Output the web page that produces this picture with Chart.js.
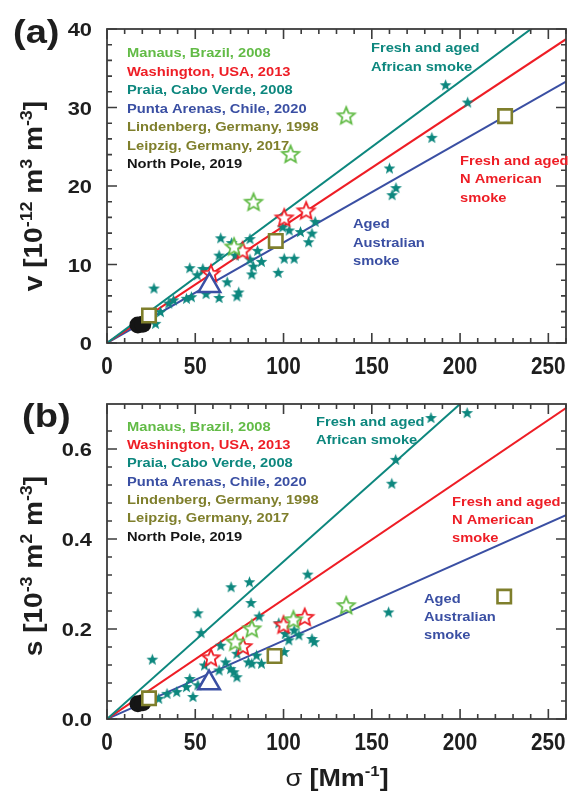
<!DOCTYPE html>
<html>
<head>
<meta charset="utf-8">
<script src="https://cdn.jsdelivr.net/npm/chart.js@4.4.1/dist/chart.umd.min.js"></script>
<style>
  html, body { margin: 0; padding: 0; background: #fff; }
  #wrap { position: relative; width: 581px; height: 791px; }
  canvas { position: absolute; left: 0; }
  #chart-a { top: 0; }
  #chart-b { top: 380px; }
</style>
</head>
<body>
<div id="wrap">
  <canvas id="chart-a" width="581" height="380"></canvas>
  <canvas id="chart-b" width="581" height="411"></canvas>
</div>
<script>
// ---- data: [sigma (Mm-1), value] ----

// panel (a): volume concentration v
const praiaA = [
  [26.6, 7.0], [27.5, 2.5], [30.3, 4.0], [35, 5.1], [37.7, 5.5], [45, 5.7], [47.8, 5.9],
  [46.9, 9.6], [51.1, 8.7], [54.3, 9.5], [56.1, 6.3], [63.5, 5.8], [68.1, 7.8], [73.6, 6.0],
  [74.6, 6.5], [64.4, 13.4], [70.6, 12.8], [81, 13.3], [63.5, 11.2], [72.7, 11.2], [85.3, 11.8],
  [81, 10.7], [87.5, 10.4], [82.9, 9.8], [82, 8.8], [97, 9.0], [100.4, 10.8], [106, 10.8],
  [99.5, 14.8], [103.2, 14.4], [109.6, 14.2], [116.1, 14.0], [114.2, 12.9], [117.9, 15.5],
  [160, 22.3], [163.7, 19.8], [161.5, 18.9], [184, 26.2], [191.8, 32.9], [204.3, 30.7]
];
const manausA = [[72, 12.3], [83, 18.0], [104, 24.1], [135.5, 29.0]];
const washingtonA = [[58.9, 8.9], [76.8, 11.8], [100.4, 16.0], [112.8, 16.9]];
const puntaArenasA = [[58, 7.3]];
const lindenbergA = [[225.5, 28.9]];
const leipzigA = [[23.8, 3.5], [95.6, 13.0]];
const northPoleA = [[17.5, 2.3], [20.3, 2.4]];
const africanLineA = [[0, 0], [260, 43.3]];
const americanLineA = [[0, 0], [260, 38.7]];
const australianLineA = [[0, 0], [260, 33.3]];

// panel (b): surface area concentration s
const praiaB = [
  [183.5, 0.670], [204, 0.681], [163.5, 0.577], [161.3, 0.524], [113.7, 0.322], [159.5, 0.238],
  [70.3, 0.294], [80.7, 0.305], [81.6, 0.259], [51.5, 0.236], [86.2, 0.229], [53.3, 0.192],
  [25.7, 0.133], [64.4, 0.164], [97.3, 0.214], [101, 0.19], [106, 0.198], [108.7, 0.187],
  [116.1, 0.179], [117.4, 0.172], [103, 0.176], [100.4, 0.15], [73.6, 0.146], [84.7, 0.142],
  [80.1, 0.127], [87.5, 0.124], [82, 0.124], [70, 0.112], [71.8, 0.105], [73.6, 0.094],
  [67.2, 0.127], [63.5, 0.109], [55.2, 0.12], [46.9, 0.09], [45, 0.072], [48.7, 0.05],
  [51.5, 0.076], [39.5, 0.061], [34, 0.057], [29.3, 0.046]
];
const manausB = [[72.7, 0.172], [82, 0.2015], [105.6, 0.2215], [135.5, 0.253]];
const washingtonB = [[58.9, 0.137], [77, 0.162], [100, 0.21], [112, 0.227]];
const puntaArenasB = [[57.8, 0.08]];
const lindenbergB = [[225, 0.272]];
const leipzigB = [[23.8, 0.046], [94.9, 0.14]];
const northPoleB = [[17.5, 0.034], [20.3, 0.036]];
const africanLineB = [[0, 0], [260, 0.91]];
const americanLineB = [[0, 0], [260, 0.691]];
const australianLineB = [[0, 0], [260, 0.453]];

// ticks
const xTicks = [0, 50, 100, 150, 200, 250];
const xTickLabels = ['0', '50', '100', '150', '200', '250'];
const yTicksA = [0, 10, 20, 30, 40];
const yTickLabelsA = ['0', '10', '20', '30', '40'];
const yTicksB = [0, 0.2, 0.4, 0.6];
const yTickLabelsB = ['0.0', '0.2', '0.4', '0.6'];

const siteLabels = [
  'Manaus, Brazil, 2008',
  'Washington, USA, 2013',
  'Praia, Cabo Verde, 2008',
  'Punta Arenas, Chile, 2020',
  'Lindenberg, Germany, 1998',
  'Leipzig, Germany, 2017',
  'North Pole, 2019'
];

// ---- styling ----
const FONT = "'Liberation Sans', Arial, Helvetica, sans-serif";
const TEAL = '#0d877e';
const RED = '#ee1d25';
const BLUE = '#3a4fa3';
const GREEN = '#62bb46';
const OLIVE = '#7f7f2c';
const BLACK = '#151515';
const FRAME = '#3c3c3c';
const siteColors = [GREEN, RED, TEAL, BLUE, OLIVE, OLIVE, BLACK];

function pts(arr) {
  return arr.map(([x, y]) => ({ x, y }));
}

// five-pointed star marker drawn into a small canvas
function starCanvas(R, inner, fill, stroke, lw) {
  const pad = Math.ceil(lw || 0) + 1;
  const size = Math.ceil(2 * R + 2 * pad);
  const c = document.createElement('canvas');
  c.width = c.height = size;
  const g = c.getContext('2d');
  const cx = size / 2, cy = size / 2 + R * 0.1;
  g.beginPath();
  for (let i = 0; i < 10; i++) {
    const r = i % 2 ? R * inner : R;
    const a = -Math.PI / 2 + i * Math.PI / 5;
    g.lineTo(cx + r * Math.cos(a), cy + r * Math.sin(a));
  }
  g.closePath();
  g.fillStyle = fill;
  g.fill();
  if (stroke) {
    g.lineWidth = lw;
    g.strokeStyle = stroke;
    g.lineJoin = 'miter';
    g.stroke();
  }
  return c;
}

const tealStar = starCanvas(6.2, 0.42, TEAL);
const greenStar = starCanvas(9, 0.45, '#fff', GREEN, 1.8);
const redStar = starCanvas(9, 0.45, '#fff', RED, 1.8);

// text with superscripts and a horizontal stretch
function textRun(ctx, parts, x, y, o) {
  const size = o.size, sx = o.sx || 1;
  ctx.save();
  ctx.translate(x, y);
  if (o.rot) ctx.rotate(o.rot);
  ctx.scale(sx, 1);
  ctx.fillStyle = o.color || BLACK;
  ctx.textBaseline = 'alphabetic';
  ctx.textAlign = 'left';
  const fontOf = p => `${p[2] || 'bold'} ${p[1] ? Math.round(size * 0.62) : size}px ${FONT}`;
  let total = 0;
  parts.forEach(p => { ctx.font = fontOf(p); total += ctx.measureText(p[0]).width; });
  let cx = o.align === 'center' ? -total / 2 : o.align === 'right' ? -total : 0;
  parts.forEach(p => {
    ctx.font = fontOf(p);
    ctx.fillText(p[0], cx, p[1] ? -size * 0.42 : 0);
    cx += ctx.measureText(p[0]).width;
  });
  ctx.restore();
}

function isMultiple(v, step) {
  const q = v / step;
  return Math.abs(q - Math.round(q)) < 1e-6;
}

const decorations = {
  id: 'decorations',
  afterDraw(chart, args, o) {
    const { ctx, chartArea: a, scales: { x, y } } = chart;
    ctx.save();
    ctx.strokeStyle = FRAME;
    ctx.lineWidth = 1.6;
    ctx.beginPath();
    x.ticks.forEach(t => {
      if (!isMultiple(t.value, o.xMinor)) return;
      const len = isMultiple(t.value, o.xMajor) ? 10 : 5;
      const px = x.getPixelForValue(t.value);
      ctx.moveTo(px, a.bottom); ctx.lineTo(px, a.bottom - len);
      ctx.moveTo(px, a.top); ctx.lineTo(px, a.top + len);
    });
    y.ticks.forEach(t => {
      if (!isMultiple(t.value, o.yMinor)) return;
      const len = isMultiple(t.value, o.yMajor) ? 10 : 5;
      const py = y.getPixelForValue(t.value);
      ctx.moveTo(a.left, py); ctx.lineTo(a.left + len, py);
      ctx.moveTo(a.right, py); ctx.lineTo(a.right - len, py);
    });
    ctx.stroke();
    ctx.lineWidth = 1.8;
    ctx.strokeRect(a.left, a.top, a.right - a.left, a.bottom - a.top);
    ctx.restore();

    // tick labels
    xTicks.forEach((v, i) => {
      textRun(ctx, [[xTickLabels[i]]], x.getPixelForValue(v), o.xLabelBase,
        { size: 23, sx: 0.9, align: 'center', color: '#1e1e1e' });
    });
    o.yTicks.forEach((v, i) => {
      textRun(ctx, [[o.yTickLabels[i]]], 92, y.getPixelForValue(v) + 7,
        { size: 19, sx: 1.15, align: 'right', color: '#1e1e1e' });
    });

    // panel letter
    textRun(ctx, [[o.panel]], o.panelPos[0], o.panelPos[1], { size: 34, sx: 1.12, color: '#1e1e1e' });

    // y axis title
    textRun(ctx, o.yTitle, 42, o.yTitleY, { size: 25, sx: 1.12, rot: -Math.PI / 2, align: 'center', color: '#1e1e1e' });

    // x axis title
    if (o.xTitle) {
      textRun(ctx, o.xTitle, 337, o.xTitleBase, { size: 24, sx: 1.12, align: 'center', color: '#1e1e1e' });
    }

    // site list
    siteLabels.forEach((s, i) => {
      textRun(ctx, [[s]], 127, o.legendTop + i * o.legendStep, { size: 13, sx: 1.13, color: siteColors[i] });
    });

    // smoke annotations
    o.notes.forEach(n => {
      n.lines.forEach((l, i) => {
        textRun(ctx, [[l]], n.x, n.y + i * 18.3, { size: 13, sx: 1.13, color: n.color });
      });
    });
  }
};

function buildDatasets(d) {
  const line = (data, color) => ({
    data: pts(data), showLine: true, borderColor: color, borderWidth: 2,
    pointRadius: 0, order: 10
  });
  return [
    line(d.african, TEAL),
    line(d.american, RED),
    line(d.australian, BLUE),
    { data: pts(d.praia), pointStyle: tealStar, order: 6 },
    { data: pts(d.manaus), pointStyle: greenStar, order: 4 },
    { data: pts(d.washington), pointStyle: redStar, order: 4 },
    { data: pts(d.northPole), pointStyle: 'circle', pointRadius: 8.5,
      backgroundColor: BLACK, borderColor: BLACK, borderWidth: 0, order: 3 },
    { data: pts(d.puntaArenas), pointStyle: 'triangle', pointRadius: 12.5,
      backgroundColor: '#fff', borderColor: BLUE, borderWidth: 2.5, order: 2 },
    { data: pts(d.lindenberg.concat(d.leipzig)), pointStyle: 'rect', pointRadius: 9.5,
      backgroundColor: '#fff', borderColor: OLIVE, borderWidth: 2.6, order: 1 }
  ];
}

function makeChart(id, d, height, top, bottom, yMax, yStep, deco) {
  const ctx = document.getElementById(id).getContext('2d');
  return new Chart(ctx, {
    type: 'scatter',
    data: { datasets: buildDatasets(d) },
    options: {
      responsive: false,
      devicePixelRatio: 1,
      animation: false,
      events: [],
      layout: { padding: { top: top, right: 4, left: 0, bottom: 0 } },
      plugins: {
        legend: { display: false },
        tooltip: { enabled: false },
        decorations: deco
      },
      scales: {
        x: {
          type: 'linear', min: 0, max: 260,
          ticks: { stepSize: 10, display: false },
          grid: { display: false },
          border: { display: false },
          afterFit: s => { s.height = height - bottom; }
        },
        y: {
          type: 'linear', min: 0, max: yMax,
          ticks: { stepSize: yStep, display: false },
          grid: { display: false },
          border: { display: false },
          afterFit: s => { s.width = 107; }
        }
      }
    },
    plugins: [decorations]
  });
}

makeChart('chart-a', {
  praia: praiaA, manaus: manausA, washington: washingtonA, puntaArenas: puntaArenasA,
  lindenberg: lindenbergA, leipzig: leipzigA, northPole: northPoleA,
  african: africanLineA, american: americanLineA, australian: australianLineA
}, 380, 29, 343, 40, 2, {
  xMinor: 10, xMajor: 50, yMinor: 2, yMajor: 10,
  xLabelBase: 373.5,
  yTicks: yTicksA, yTickLabels: yTickLabelsA,
  panel: '(a)', panelPos: [13, 43],
  yTitle: [['v [10'], ['-12', true], [' m'], ['3', true], [' m'], ['-3', true], [']']],
  yTitleY: 196,
  legendTop: 57, legendStep: 18.5,
  notes: [
    { x: 371, y: 52.3, color: TEAL, lines: ['Fresh and aged', 'African smoke'] },
    { x: 460, y: 165, color: RED, lines: ['Fresh and aged', 'N American', 'smoke'] },
    { x: 353, y: 228.3, color: BLUE, lines: ['Aged', 'Australian', 'smoke'] }
  ]
});

makeChart('chart-b', {
  praia: praiaB, manaus: manausB, washington: washingtonB, puntaArenas: puntaArenasB,
  lindenberg: lindenbergB, leipzig: leipzigB, northPole: northPoleB,
  african: africanLineB, american: americanLineB, australian: australianLineB
}, 411, 24, 339, 0.7, 0.04, {
  xMinor: 10, xMajor: 50, yMinor: 0.04, yMajor: 0.2,
  xLabelBase: 370,
  yTicks: yTicksB, yTickLabels: yTickLabelsB,
  panel: '(b)', panelPos: [22, 47],
  yTitle: [['s [10'], ['-3', true], [' m'], ['2', true], [' m'], ['-3', true], [']']],
  yTitleY: 186,
  xTitle: [['σ', false, 'normal'], [' [Mm'], ['-1', true], [']']],
  xTitleBase: 406,
  legendTop: 50.7, legendStep: 18.3,
  notes: [
    { x: 316, y: 46, color: TEAL, lines: ['Fresh and aged', 'African smoke'] },
    { x: 452, y: 125.7, color: RED, lines: ['Fresh and aged', 'N American', 'smoke'] },
    { x: 424, y: 222.7, color: BLUE, lines: ['Aged', 'Australian', 'smoke'] }
  ]
});
</script>
</body>
</html>
